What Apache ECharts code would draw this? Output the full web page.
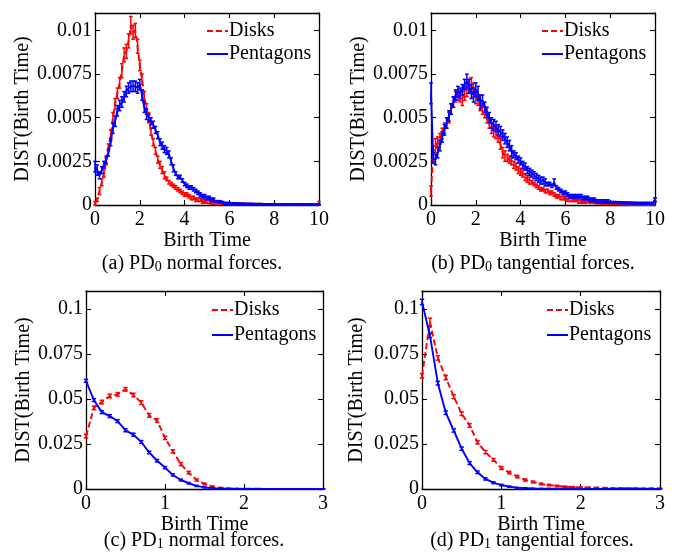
<!DOCTYPE html>
<html><head><meta charset="utf-8">
<script src="https://cdn.jsdelivr.net/npm/echarts@6/dist/echarts.min.js"></script>
<style>html,body{margin:0;padding:0;background:#fff}#c{width:679px;height:556px}</style>
</head><body><div id="c"></div>
<script>
// ---------- data ----------
const birthTime0 = [0,0.1,0.2,0.3,0.4,0.5,0.6,0.7,0.8,0.9,1,1.1,1.2,1.3,1.4,1.5,1.6,1.7,1.8,1.9,2,2.1,2.2,2.3,2.4,2.5,2.6,2.7,2.8,2.9,3,3.1,3.2,3.3,3.4,3.5,3.6,3.7,3.8,3.9,4,4.1,4.2,4.3,4.4,4.5,4.6,4.7,4.8,4.9,5,5.1,5.2,5.3,5.4,5.5,5.6,5.7,5.8,5.9,6,6.1,6.2,6.3,6.4,6.5,6.6,6.7,6.8,6.9,7,7.1,7.2,7.3,7.4,7.5,7.6,7.7,7.8,7.9,8,8.1,8.2,8.3,8.4,8.5,8.6,8.7,8.8,8.9,9,9.1,9.2,9.3,9.4,9.5,9.6,9.7,9.8,9.9,10];
const birthTime1 = [0,0.1,0.2,0.3,0.4,0.5,0.6,0.7,0.8,0.9,1,1.1,1.2,1.3,1.4,1.5,1.6,1.7,1.8,1.9,2,2.1,2.2,2.3,2.4,2.5,2.6,2.7,2.8,2.9,3];

// (a) PD0 normal forces
const disksNormal0 = [0.0001,0.0003,0.0008,0.0013,0.0018,0.0025,0.0033,0.0040,0.0050,0.0058,
 0.0064,0.0070,0.0077,0.0086,0.0088,0.0094,0.0103,0.0099,0.0100,0.0091,
 0.0080,0.0072,0.0062,0.0055,0.0050,0.0042,0.0036,0.0031,0.0026,0.0023,
 0.0020,0.0017,0.0015,0.0013,0.0012,0.0011,0.0010,0.0009,0.0008,0.0007,
 0.0006,0.0006,0.0005,0.0004,0.0004,0.0003,0.0003,0.0003,0.0002,0.0002,
 0.0002,0.00018,0.00015,0.00014,0.00012,0.0001,0.0001,0.00009,0.00008,0.00008,
 0.00007,0.00007,0.00006,0.00006,0.00005,0.00005,0.00005,0.00004,0.00004,0.00004,
 0.00004,0.00003,0.00003,0.00003,0.00003,0.00003,0.00002,0.00002,0.00002,0.00002,
 0.00002,0.00002,0.00002,0.00001,0.00001,0.00001,0.00001,0.00001,0.00001,0.00001,
 0.00001,0.00001,0.00001,0.00001,0.00001,0.00001,0.00001,0.00001,0.00001,0.00001,0.0001];
const disksNormal0Err = [0.0001,0.0001,0.0002,0.0002,0.0002,0.0002,0.0002,0.0003,0.0003,0.0003,
 0.0003,0.0003,0.0004,0.0004,0.0004,0.0004,0.0005,0.0004,0.0004,0.0004,
 0.0003,0.0003,0.0003,0.0003,0.0003,0.0002,0.0002,0.0002,0.0002,0.0002,
 0.0002,0.0002,0.0001,0.0001,0.0001,0.0001,0.0001,0.0001,0.0001,0.0001,
 0.0001,0.0001,0.0001,0.0001,0.0001,0.0001,0.0001,0.0001,0.0001,0.0001,
 0.0001,0.0001,0.0001,0.0001,0.0001,0.00005,0.00005,0.00005,0.00005,0.00005,
 0.00005,0.00005,0.00005,0.00005,0.00005,0.00005,0.00005,0.00005,0.00005,0.00005,
 0.00005,0.00005,0.00005,0.00005,0.00005,0.00005,0.00005,0.00005,0.00005,0.00005,
 0.00005,0.00005,0.00005,0.00005,0.00005,0.00005,0.00005,0.00005,0.00005,0.00005,
 0.00005,0.00005,0.00005,0.00005,0.00005,0.00005,0.00005,0.00005,0.00005,0.00005,0.0001];
const pentagonsNormal0 = [0.0022,0.0020,0.0017,0.0020,0.0023,0.0026,0.0030,0.0036,0.0044,0.0048,
 0.0054,0.0057,0.0059,0.0062,0.0065,0.0067,0.0068,0.0068,0.0068,0.0067,
 0.0069,0.0063,0.0056,0.0052,0.0050,0.0048,0.0046,0.0043,0.0040,0.0036,
 0.0034,0.0032,0.0031,0.0029,0.0025,0.0021,0.0018,0.0016,0.0016,0.0014,
 0.0012,0.0011,0.0010,0.0010,0.0009,0.0008,0.0007,0.0006,0.0005,0.0005,
 0.0004,0.0004,0.0003,0.0003,0.0002,0.0002,0.0002,0.00015,0.0001,0.0001,
 0.00009,0.00008,0.00008,0.00007,0.00006,0.00006,0.00005,0.00005,0.00004,0.00004,
 0.00004,0.00003,0.00003,0.00003,0.00003,0.00002,0.00002,0.00002,0.00002,0.00002,
 0.00002,0.00001,0.00001,0.00001,0.00001,0.00001,0.00001,0.00001,0.00001,0.00001,
 0.00001,0.00001,0.00001,0.00001,0.00001,0.00001,0.00001,0.00001,0.00001,0.00001,0.00001];
const pentagonsNormal0Err = [0.0003,0.0003,0.0002,0.0002,0.0002,0.0002,0.0002,0.0002,0.0003,0.0003,
 0.0003,0.0003,0.0003,0.0003,0.0003,0.0003,0.0003,0.0003,0.0003,0.0003,
 0.0003,0.0003,0.0003,0.0003,0.0002,0.0002,0.0002,0.0002,0.0002,0.0002,
 0.0002,0.0002,0.0002,0.0002,0.0002,0.0002,0.0001,0.0001,0.0001,0.0001,
 0.0001,0.0001,0.0001,0.0001,0.0001,0.0001,0.0001,0.0001,0.0001,0.0001,
 0.0001,0.0001,0.0001,0.0001,0.00005,0.00005,0.00005,0.00005,0.00005,0.00005,
 0.00005,0.00005,0.00005,0.00005,0.00005,0.00005,0.00005,0.00005,0.00005,0.00005,
 0.00005,0.00005,0.00005,0.00005,0.00005,0.00005,0.00005,0.00005,0.00005,0.00005,
 0.00005,0.00005,0.00005,0.00005,0.00005,0.00005,0.00005,0.00005,0.00005,0.00005,
 0.00005,0.00005,0.00005,0.00005,0.00005,0.00005,0.00005,0.00005,0.00005,0.00005,0.00005];

// (b) PD0 tangential forces
const disksTangential0 = [0.0008,0.0030,0.0034,0.0036,0.0038,0.0041,0.0044,0.0047,0.0050,0.0055,
 0.0059,0.0062,0.0063,0.0062,0.0061,0.0064,0.0066,0.0068,0.0069,0.0066,
 0.0062,0.0060,0.0057,0.0055,0.0053,0.0050,0.0047,0.0044,0.0042,0.0041,
 0.0039,0.0035,0.0030,0.0028,0.0027,0.0026,0.0025,0.0023,0.0022,0.0020,
 0.0019,0.0018,0.0016,0.0015,0.0014,0.0013,0.0012,0.0011,0.0010,0.0009,
 0.0009,0.0008,0.0008,0.0007,0.0007,0.0006,0.0005,0.0005,0.0004,0.0004,
 0.0004,0.0003,0.0003,0.0003,0.0003,0.0003,0.0002,0.0002,0.0002,0.0002,
 0.0002,0.00015,0.00015,0.00014,0.00013,0.00012,0.00011,0.0001,0.0001,0.0001,
 0.00009,0.00008,0.00008,0.00007,0.00007,0.00006,0.00006,0.00006,0.00005,0.00005,
 0.00005,0.00005,0.00004,0.00004,0.00004,0.00004,0.00004,0.00004,0.00004,0.00005,0.0003];
const disksTangential0Err = [0.0003,0.0004,0.0004,0.0003,0.0003,0.0003,0.0003,0.0003,0.0003,0.0003,
 0.0003,0.0003,0.0003,0.0003,0.0004,0.0004,0.0004,0.0004,0.0004,0.0004,
 0.0004,0.0003,0.0003,0.0003,0.0003,0.0003,0.0003,0.0003,0.0003,0.0003,
 0.0003,0.0003,0.0003,0.0003,0.0002,0.0002,0.0002,0.0002,0.0002,0.0002,
 0.0002,0.0002,0.0002,0.0002,0.0002,0.0001,0.0001,0.0001,0.0001,0.0001,
 0.0001,0.0001,0.0001,0.0001,0.0001,0.0001,0.0001,0.0001,0.0001,0.0001,
 0.0001,0.0001,0.0001,0.0001,0.0001,0.0001,0.0001,0.0001,0.0001,0.0001,
 0.00005,0.00005,0.00005,0.00005,0.00005,0.00005,0.00005,0.00005,0.00005,0.00005,
 0.00005,0.00005,0.00005,0.00005,0.00005,0.00005,0.00005,0.00005,0.00005,0.00005,
 0.00005,0.00005,0.00005,0.00005,0.00005,0.00005,0.00005,0.00005,0.00005,0.00005,0.0001];
const pentagonsTangential0 = [0.0064,0.0027,0.0026,0.0030,0.0034,0.0039,0.0043,0.0047,0.0051,0.0055,
 0.0059,0.0063,0.0065,0.0064,0.0066,0.0069,0.0071,0.0068,0.0065,0.0063,
 0.0066,0.0064,0.0059,0.0060,0.0056,0.0053,0.0050,0.0047,0.0046,0.0045,
 0.0043,0.0042,0.0040,0.0038,0.0036,0.0034,0.0031,0.0029,0.0028,0.0026,
 0.0025,0.0023,0.0022,0.0020,0.0019,0.0018,0.0017,0.0016,0.0015,0.0014,
 0.0014,0.0013,0.0012,0.0012,0.0011,0.0013,0.0010,0.0009,0.0008,0.0007,
 0.0007,0.0006,0.0005,0.0005,0.0005,0.0005,0.0005,0.0005,0.0004,0.0004,
 0.0004,0.0003,0.0003,0.0003,0.0002,0.0002,0.0002,0.0002,0.0002,0.0002,
 0.00015,0.00015,0.00015,0.00014,0.00014,0.00013,0.00013,0.00012,0.00012,0.00012,
 0.00011,0.00011,0.0001,0.0001,0.0001,0.0001,0.0001,0.0001,0.0001,0.0001,0.0003];
const pentagonsTangential0Err = [0.0006,0.0003,0.0003,0.0003,0.0003,0.0003,0.0003,0.0003,0.0003,0.0003,
 0.0003,0.0003,0.0003,0.0003,0.0003,0.0003,0.0004,0.0004,0.0004,0.0004,
 0.0004,0.0004,0.0004,0.0003,0.0003,0.0003,0.0003,0.0003,0.0003,0.0003,
 0.0003,0.0003,0.0003,0.0003,0.0003,0.0003,0.0003,0.0002,0.0002,0.0002,
 0.0002,0.0002,0.0002,0.0002,0.0002,0.0002,0.0002,0.0002,0.0002,0.0002,
 0.0002,0.0002,0.0001,0.0001,0.0001,0.0002,0.0001,0.0001,0.0001,0.0001,
 0.0001,0.0001,0.0001,0.0001,0.0001,0.0001,0.0001,0.0001,0.0001,0.0001,
 0.0001,0.0001,0.0001,0.0001,0.0001,0.0001,0.0001,0.0001,0.0001,0.0001,
 0.00005,0.00005,0.00005,0.00005,0.00005,0.00005,0.00005,0.00005,0.00005,0.00005,
 0.00005,0.00005,0.00005,0.00005,0.00005,0.00005,0.00005,0.00005,0.00005,0.00005,0.0001];

// (c) PD1 normal forces
const disksNormal1 = [0.0293,0.0451,0.0483,0.0517,0.0526,0.0554,0.0522,0.0480,0.0409,0.0380,0.0284,0.0209,0.0138,0.0091,0.0050,0.0028,0.0013,0.0006,0.0003,0.0002,0.0001,0.0001,0.0001,0.00005,0.00005,0.00004,0.00003,0.00003,0.00002,0.00002,0.00002];
const disksNormal1Err = [0.0010,0.0010,0.0010,0.0010,0.0010,0.0010,0.0010,0.0010,0.0010,0.0010,0.0009,0.0009,0.0008,0.0007,0.0006,0.0005,0.0004,0.0003,0.0002,0.0002,0.0001,0.0001,0.0001,0.0001,0.0001,0.0001,0.0001,0.0001,0.0001,0.0001,0.0001];
const pentagonsNormal1 = [0.0601,0.0494,0.0427,0.0405,0.0377,0.0326,0.0302,0.0261,0.0203,0.0157,0.0119,0.0078,0.0050,0.0032,0.0017,0.0009,0.0004,0.0002,0.0001,0.00005,0.00003,0.00002,0.00001,0.00001,0.00001,0.00001,0.00001,0.00001,0.00001,0.00001,0.00001];
const pentagonsNormal1Err = [0.0008,0.0008,0.0008,0.0008,0.0008,0.0008,0.0008,0.0008,0.0007,0.0007,0.0006,0.0006,0.0005,0.0004,0.0003,0.0003,0.0002,0.0001,0.0001,0.0001,0.0001,0.0001,0.0001,0.0001,0.0001,0.0001,0.0001,0.0001,0.0001,0.0001,0.0001];

// (d) PD1 tangential forces
const disksTangential1 = [0.0629,0.0927,0.0728,0.0619,0.0513,0.0418,0.0353,0.0259,0.0205,0.0162,0.0116,0.0091,0.0069,0.0050,0.0039,0.0028,0.0022,0.0017,0.0013,0.0011,0.0009,0.0008,0.0007,0.0006,0.0005,0.0005,0.0004,0.0004,0.0003,0.0003,0.0003];
const disksTangential1Err = [0.0012,0.0022,0.0012,0.0012,0.0011,0.0010,0.0010,0.0009,0.0009,0.0008,0.0008,0.0007,0.0007,0.0006,0.0005,0.0005,0.0004,0.0004,0.0003,0.0003,0.0003,0.0002,0.0002,0.0002,0.0002,0.0002,0.0002,0.0002,0.0002,0.0002,0.0002];
const pentagonsTangential1 = [0.1039,0.0853,0.0588,0.0424,0.0325,0.0224,0.0144,0.0093,0.0056,0.0035,0.0022,0.0013,0.0007,0.0005,0.0003,0.0002,0.0002,0.0001,0.0001,0.0001,0.00005,0.00005,0.00004,0.00003,0.00003,0.00002,0.00002,0.00002,0.00001,0.00001,0.00001];
const pentagonsTangential1Err = [0.0015,0.0012,0.0010,0.0010,0.0009,0.0009,0.0008,0.0007,0.0006,0.0005,0.0004,0.0003,0.0002,0.0002,0.0001,0.0001,0.0001,0.0001,0.0001,0.0001,0.0001,0.0001,0.0001,0.0001,0.0001,0.0001,0.0001,0.0001,0.0001,0.0001,0.0001];

const xTicks0 = ['0','2','4','6','8','10'];
const xTicks1 = ['0','1','2','3'];
const yTicks0 = ['0','0.0025','0.005','0.0075','0.01'];
const yTicks1 = ['0','0.025','0.05','0.075','0.1'];
const seriesNames = ['Disks','Pentagons'];
const captions = [
  {tag:'(a) PD', sub:'0', rest:' normal forces.'},
  {tag:'(b) PD', sub:'0', rest:' tangential forces.'},
  {tag:'(c) PD', sub:'1', rest:' normal forces.'},
  {tag:'(d) PD', sub:'1', rest:' tangential forces.'}
];

// ---------- layout ----------
const FONT = '"Liberation Serif","Times New Roman",serif';
const RED = '#ff0000', BLUE = '#0000ff';
const panels = [
  {grid:{left:95, top:13, width:224, height:192}, x:birthTime0, xmax:10, xint:2, xt:xTicks0, ymax:0.011, yint:0.0025, yt:yTicks0,
   d:disksNormal0, de:disksNormal0Err, p:pentagonsNormal0, pe:pentagonsNormal0Err, nameGap:60, cap:1.8,
   legend:{left:206, top:21, gap:3}, caption:{x:192, y:263}},
  {grid:{left:431, top:13, width:224, height:192}, x:birthTime0, xmax:10, xint:2, xt:xTicks0, ymax:0.011, yint:0.0025, yt:yTicks0,
   d:disksTangential0, de:disksTangential0Err, p:pentagonsTangential0, pe:pentagonsTangential0Err, nameGap:60, cap:1.8,
   legend:{left:541, top:21, gap:3}, caption:{x:533, y:263}},
  {grid:{left:86, top:291, width:237, height:198}, x:birthTime1, xmax:3, xint:1, xt:xTicks1, ymax:0.11, yint:0.025, yt:yTicks1,
   d:disksNormal1, de:disksNormal1Err, p:pentagonsNormal1, pe:pentagonsNormal1Err, nameGap:52, cap:2.2,
   legend:{left:211, top:300, gap:5}, caption:{x:194, y:540}},
  {grid:{left:422, top:291, width:238, height:198}, x:birthTime1, xmax:3, xint:1, xt:xTicks1, ymax:0.11, yint:0.025, yt:yTicks1,
   d:disksTangential1, de:disksTangential1Err, p:pentagonsTangential1, pe:pentagonsTangential1Err, nameGap:55, cap:2.2,
   legend:{left:546, top:300, gap:5}, caption:{x:532, y:540}}
];

const axisLine = {lineStyle:{color:'#000', width:1.3}};
const axisTick = {inside:true, length:5, lineStyle:{color:'#000', width:1.1}};

function errRenderer(capW){
  return function(params, api){
    const x = api.value(0), y = api.value(1), e = api.value(2);
    const cs = params.coordSys;
    const clampY = v => Math.max(cs.y, Math.min(cs.y + cs.height, v));
    const t = api.coord([x, y + e]), b = api.coord([x, y - e]);
    const yt = clampY(t[1]), yb = clampY(b[1]);
    const style = {stroke: api.visual('color'), lineWidth: 1.5};
    return {type:'group', children:[
      {type:'line', shape:{x1:t[0], y1:yt, x2:t[0], y2:yb}, style},
      {type:'line', shape:{x1:t[0]-capW, y1:yt, x2:t[0]+capW, y2:yt}, style},
      {type:'line', shape:{x1:t[0]-capW, y1:yb, x2:t[0]+capW, y2:yb}, style}
    ]};
  };
}

const grid = [], xAxis = [], yAxis = [], series = [], legend = [], graphic = [];
panels.forEach((P, k) => {
  grid.push(Object.assign({containLabel:false}, P.grid));
  const xl = {type:'value', gridIndex:k, min:0, max:P.xmax, interval:P.xint,
    axisLine:Object.assign({onZero:false}, axisLine), axisTick, splitLine:{show:false},
    axisLabel:{margin:5, color:'#000', fontFamily:FONT, fontSize:20, formatter:(v,i)=>P.xt[i] ?? ''},
    name:'Birth Time', nameLocation:'middle', nameGap:22,
    nameTextStyle:{color:'#000', fontFamily:FONT, fontSize:20}};
  const xt = {type:'value', gridIndex:k, position:'top', min:0, max:P.xmax, interval:P.xint,
    axisLine:Object.assign({onZero:false}, axisLine), axisTick, splitLine:{show:false}, axisLabel:{show:false}};
  xAxis.push(xl, xt);
  const yl = {type:'value', gridIndex:k, min:0, max:P.ymax, interval:P.yint,
    axisLine:Object.assign({show:true, onZero:false}, axisLine), axisTick:Object.assign({show:true}, axisTick), splitLine:{show:false},
    axisLabel:{margin:3, color:'#000', fontFamily:FONT, fontSize:20, showMaxLabel:false, formatter:(v,i)=>P.yt[i] ?? ''},
    name:'DIST(Birth Time)', nameLocation:'middle', nameGap:P.nameGap,
    nameTextStyle:{color:'#000', fontFamily:FONT, fontSize:20}};
  const yr = {type:'value', gridIndex:k, position:'right', min:0, max:P.ymax, interval:P.yint,
    axisLine:Object.assign({show:true, onZero:false}, axisLine), axisTick:Object.assign({show:true}, axisTick), splitLine:{show:false},
    axisLabel:{show:false}};
  yAxis.push(yl, yr);

  const mk = (vals, errs) => vals.map((v,i) => [P.x[i], v, errs[i]]);
  const xi = 2*k, yi = 2*k;
  // Disks
  series.push({type:'custom', name:'errD'+k, xAxisIndex:xi, yAxisIndex:yi, data:mk(P.d, P.de),
    renderItem:errRenderer(P.cap), itemStyle:{color:RED}, encode:{x:0,y:1}, silent:true, z:2});
  series.push({type:'line', name:seriesNames[0], xAxisIndex:xi, yAxisIndex:yi, data:P.d.map((v,i)=>[P.x[i], v]),
    symbol:'none', color:RED, lineStyle:{color:RED, width:1.9, type:[6,3]}, z:3});
  // Pentagons
  series.push({type:'custom', name:'errP'+k, xAxisIndex:xi, yAxisIndex:yi, data:mk(P.p, P.pe),
    renderItem:errRenderer(P.cap), itemStyle:{color:BLUE}, encode:{x:0,y:1}, silent:true, z:4});
  series.push({type:'line', name:seriesNames[1], xAxisIndex:xi, yAxisIndex:yi, data:P.p.map((v,i)=>[P.x[i], v]),
    symbol:'none', color:BLUE, lineStyle:{color:BLUE, width:1.9}, z:5});

  legend.push({orient:'vertical', left:P.legend.left, top:P.legend.top, itemWidth:21, itemHeight:10, itemGap:P.legend.gap,
    data:seriesNames, selectedMode:false, padding:0,
    itemStyle:{opacity:0, borderWidth:0},
    textStyle:{color:'#000', fontFamily:FONT, fontSize:20, lineHeight:20, padding:[0,0,0,-4]}});

  const C = captions[k];
  graphic.push({type:'text', x:P.caption.x, y:P.caption.y,
    style:{text:'{m|'+C.tag+'}{s|'+C.sub+'}{m|'+C.rest+'}', align:'center', verticalAlign:'middle',
      rich:{m:{fontFamily:FONT, fontSize:20, fill:'#000', lineHeight:22, verticalAlign:'bottom'},
            s:{fontFamily:FONT, fontSize:14, fill:'#000', lineHeight:22, verticalAlign:'bottom', padding:[6,0,0,0]}}}});
});

const chart = echarts.init(document.getElementById('c'), null, {renderer:'canvas'});
chart.setOption({backgroundColor:'#fff', animation:false, grid, xAxis, yAxis, series, legend, graphic});
</script></body></html>
